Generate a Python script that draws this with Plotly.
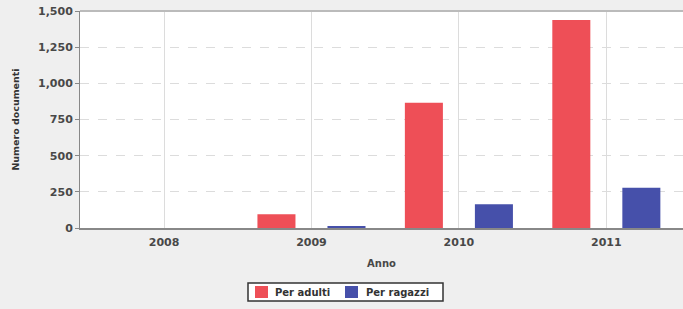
import plotly.graph_objects as go

years = ["2008", "2009", "2010", "2011"]
per_adulti = [0, 95, 866, 1437]
per_ragazzi = [0, 14, 164, 279]
series_names = ["Per adulti", "Per ragazzi"]
y_ticks = [0, 250, 500, 750, 1000, 1250, 1500]
y_tick_labels = ["0", "250", "500", "750", "1,000", "1,250", "1,500"]

RED = "#EE4F57"
BLUE = "#4650AA"
FONT = "DejaVu Sans"
TXT = "#484848"

W, H = 683, 309
ML, MR, MT, MB = 80, 0, 11, 81
PW, PH = W - ML - MR, H - MT - MB


def px_x(px):
    return (px - ML) / PW


def px_y(py):
    return (H - MB - py) / PH


fig = go.Figure()
fig.add_trace(go.Bar(x=years, y=per_adulti, name=series_names[0],
                     marker=dict(color=RED, line=dict(width=0))))
fig.add_trace(go.Bar(x=years, y=per_ragazzi, name=series_names[1],
                     marker=dict(color=BLUE, line=dict(width=0))))

fig.update_layout(
    width=W, height=H,
    margin=dict(l=ML, r=MR, t=MT, b=MB, autoexpand=False),
    paper_bgcolor="#efefef",
    plot_bgcolor="#ffffff",
    barmode="group",
    bargap=0.05,
    bargroupgap=0.457,
    font=dict(family=FONT, color=TXT, size=11),
    showlegend=False,
)

fig.update_xaxes(
    type="category",
    range=[-0.57, 3.52],
    automargin=False,
    showgrid=True, gridcolor="#dcdcdc", gridwidth=1,
    showline=True, linecolor="#888888", linewidth=2,
    ticks="", ticklabelstandoff=3,
    tickfont=dict(family=FONT, size=11, color=TXT, weight="bold"),
    title=dict(text="Anno", font=dict(family=FONT, size=10, color=TXT, weight="bold"), standoff=12),
)
fig.update_yaxes(
    range=[0, 1500],
    automargin=False,
    tickvals=y_ticks, ticktext=y_tick_labels,
    showgrid=True, gridcolor="#dcdcdc", griddash="dash", gridwidth=1,
    showline=True, linecolor="#888888", linewidth=1,
    ticks="outside", ticklen=4, tickcolor="#888888",
    tickfont=dict(family=FONT, size=11, color=TXT, weight="bold"),
    title=dict(text="Numero documenti", font=dict(family=FONT, size=9.5, color="#333333", weight="bold"), standoff=16),
    zeroline=False,
)
# top border
fig.add_shape(type="line", xref="paper", yref="paper", x0=0, x1=1, y0=1, y1=1,
              line=dict(color="#bbbbbb", width=2))

# legend box (drawn manually to match the compact original legend)
fig.add_shape(type="rect", xref="paper", yref="paper",
              x0=px_x(248), x1=px_x(443), y0=px_y(301), y1=px_y(283),
              fillcolor="#ffffff", line=dict(color="#333333", width=1.5))
legend_items = [(series_names[0], RED, 255, 273), (series_names[1], BLUE, 345, 364)]
for name, col, sx, tx in legend_items:
    fig.add_shape(type="rect", xref="paper", yref="paper",
                  x0=px_x(sx), x1=px_x(sx + 13), y0=px_y(298), y1=px_y(286),
                  fillcolor=col, line=dict(width=0))
    fig.add_annotation(text=name, xref="paper", yref="paper",
                       x=px_x(tx), y=px_y(292), xanchor="left", yanchor="middle",
                       showarrow=False,
                       font=dict(family=FONT, size=10, color="#333333", weight="bold"))

fig.write_html("out.html", config={"displayModeBar": False},
               post_script="document.body.style.margin='0';document.body.style.overflow='hidden';")
